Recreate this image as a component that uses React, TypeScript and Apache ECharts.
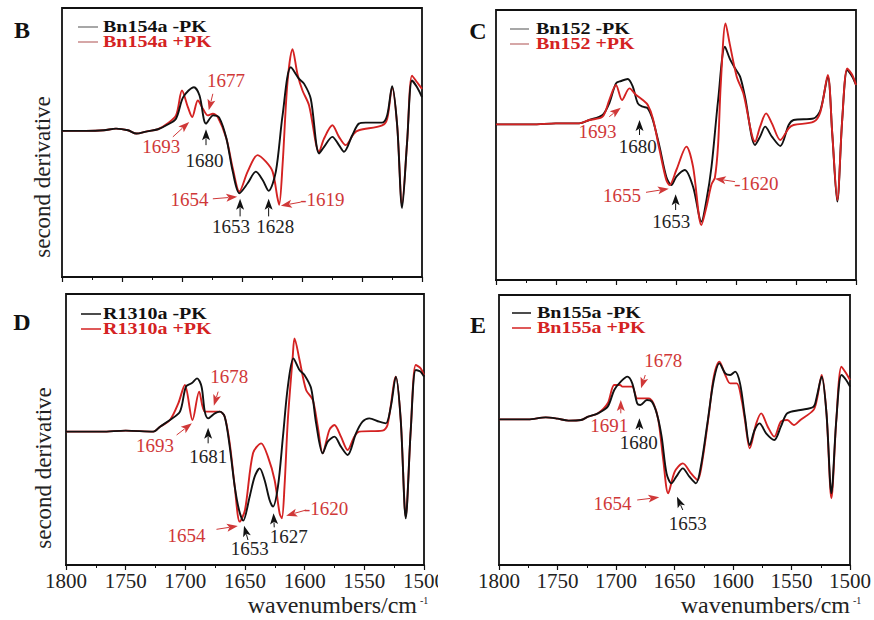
import React, { useEffect, useRef } from "react";
import * as echarts from "echarts";

const SERIF = "'Liberation Serif', 'DejaVu Serif', 'Times New Roman', serif";
const BLACK = "#111111";
const RED_LINE = "#d42222";
const RED_TEXT = "#d03838";

// ---------- data: [wavenumber (cm-1), second derivative (a.u.)] ----------
const bMinus: [number, number][] = [
  [1800, 0], [1780, 0], [1765, 2], [1755, 7], [1745, 2], [1738, -8], [1730, -2], [1720, 5],
  [1713, 17], [1705, 37], [1699, 102], [1690, 132], [1685.4, 107], [1680, 22], [1674, 47],
  [1669, 40], [1663, -23], [1657.7, -123], [1652.2, -188], [1645.3, -158], [1638.4, -123],
  [1632.8, -148], [1627.8, -181], [1621.8, -123], [1616.2, 47], [1609.3, 192], [1602.4, 157],
  [1598.2, 142], [1592.7, 97], [1585.8, -68], [1581.6, -48], [1574.7, -18], [1569.2, -43],
  [1565, -63], [1558.1, -13], [1552.6, 22], [1547, 25], [1533.2, 25], [1529, 47], [1524.9, 135],
  [1520.7, 17], [1516.6, -233], [1512.4, -33], [1508.3, 152], [1504.1, 132], [1500, 102],
];
const bPlus: [number, number][] = [
  [1800, 0], [1780, 0], [1765, 2], [1755, 7], [1745, 2], [1738, -8], [1730, -2], [1720, 5],
  [1713, 20], [1705, 47], [1700, 122], [1695.1, 72], [1691.5, 42], [1686.8, 92], [1682.6, 67],
  [1678.5, 47], [1674.3, 52], [1670.2, 42], [1663, -23], [1657.7, -113], [1652.2, -183],
  [1645.3, -123], [1637, -73], [1630.1, -93], [1624.5, -123], [1620.4, -203], [1619, -223],
  [1616.2, -103], [1612.1, 147], [1607.9, 247], [1603.8, 172], [1599.6, 122], [1594.1, 77],
  [1585.8, -63], [1581.6, -23], [1574.7, 17], [1569.2, -18], [1563.6, -43], [1556.7, -8],
  [1552.6, 2], [1533.2, 17], [1529, 37], [1524.9, 132], [1520.7, 17], [1516.6, -223],
  [1512.4, -33], [1508.3, 167], [1504.1, 147], [1500, 127],
];
const cMinus: [number, number][] = [
  [1800, 0], [1770, 0], [1750, 3], [1730.7, 3], [1722.3, 13], [1711.2, 28], [1705.6, 63],
  [1700, 123], [1695.8, 130], [1690.2, 136], [1686, 113], [1681.8, 63], [1677.7, 53],
  [1673.5, 48], [1669.3, 13], [1663.7, -67], [1658.1, -157], [1653.9, -182], [1649.7, -157],
  [1642.7, -137], [1635.8, -187], [1628.8, -292], [1624.6, -227], [1620.4, -127], [1614.9, 73],
  [1609.2, 233], [1605.3, 198], [1600.8, 168], [1596.6, 143], [1592.5, 83], [1584.1, -62],
  [1579.9, -37], [1575.7, -7], [1570.1, -37], [1563.1, -65], [1556.1, -2], [1552, 13],
  [1535.2, 18], [1529.6, 43], [1523.5, 143], [1519.8, -27], [1515.6, -232], [1511.5, 13],
  [1507.3, 163], [1503.1, 143], [1500, 118],
];
const cPlus: [number, number][] = [
  [1800, 0], [1770, 0], [1750, 3], [1730.7, 3], [1722.3, 13], [1711.2, 23], [1705.6, 73],
  [1700, 118], [1695, 73], [1688.8, 108], [1683.2, 88], [1677.7, 73], [1673.5, 58],
  [1669.3, 18], [1663.7, -77], [1658.1, -167], [1655.3, -182], [1649.7, -137], [1641.3, -67],
  [1635.8, -127], [1628.8, -302], [1624.6, -247], [1620.4, -180], [1617.6, -160],
  [1614.9, -60], [1612.7, 120], [1608.7, 303], [1605.3, 243], [1599.4, 143], [1593.9, 93],
  [1584.1, -52], [1579.9, -7], [1574.9, 33], [1570.1, 3], [1563.1, -47], [1556.1, -12],
  [1552, -2], [1535.2, 8], [1529.6, 38], [1523.5, 148], [1519.8, -27], [1515.6, -227],
  [1511.5, 13], [1507.3, 168], [1503.1, 148], [1500, 118],
];
const dMinus: [number, number][] = [
  [1800, 0], [1770, 0], [1750, 3], [1726.8, 0], [1721.2, 15], [1712.9, 35], [1704.5, 60],
  [1699.5, 135], [1694.8, 145], [1690.1, 160], [1686.4, 135], [1683.7, 60], [1680.9, 40],
  [1675.3, 55], [1671.1, 60], [1667, 45], [1662.8, -45], [1658.6, -165], [1655, -235],
  [1651.5, -267], [1646.1, -195], [1641.9, -135], [1637.7, -110], [1633.6, -145],
  [1629.4, -205], [1626.6, -225], [1622.4, -165], [1618.2, -15], [1614.1, 135], [1609.4, 220],
  [1604.3, 185], [1600.2, 170], [1594.6, 130], [1590.4, 25], [1584.9, -65], [1580.7, -30],
  [1575.1, -15], [1569.6, -45], [1564, -70], [1557, -5], [1551.5, 30], [1545.9, 40],
  [1537.5, 30], [1532, 25], [1527.8, 75], [1523.6, 165], [1519.5, 35], [1515.3, -260],
  [1511.1, 5], [1506.9, 185], [1502.8, 180], [1500, 165],
];
const dPlus: [number, number][] = [
  [1800, 0], [1770, 0], [1750, 3], [1726.8, 0], [1721.2, 15], [1712.9, 35], [1705.9, 85],
  [1700.4, 140], [1694, 35], [1688.4, 120], [1683.7, 60], [1676.7, 60], [1671.1, 60],
  [1667, 45], [1662.8, -35], [1658.6, -165], [1654.4, -270], [1650, -235], [1643.3, -65],
  [1636.4, -35], [1630.8, -75], [1625.2, -145], [1621, -245], [1619.1, -260], [1616.9, -165],
  [1614.1, 35], [1610, 225], [1608.5, 280], [1604.3, 215], [1598.8, 125], [1593.2, 95],
  [1589, 15], [1584.9, -65], [1579.3, 5], [1575.1, 20], [1569.6, -15], [1564, -55],
  [1558.4, -15], [1554.2, 0], [1534.8, 3], [1530.6, 20], [1523.6, 165], [1519.5, 35],
  [1515.3, -255], [1511.1, 5], [1506.9, 200], [1502.8, 190], [1500, 170],
];
const eMinus: [number, number][] = [
  [1800, 0], [1775, 0], [1760.1, 6], [1750, 2], [1740.6, -4], [1730, -2], [1723.8, 8],
  [1715.4, 18], [1707.1, 38], [1701.5, 88], [1695.9, 113], [1690.3, 128], [1686.1, 108],
  [1681.9, 48], [1679.2, 43], [1673.6, 58], [1669.4, 53], [1665.2, 18], [1661, -52],
  [1656.8, -162], [1652.6, -192], [1648.5, -172], [1642.9, -147], [1637.3, -172],
  [1631.7, -192], [1627.5, -142], [1621.9, -12], [1616.4, 118], [1611.6, 168], [1606.6, 138],
  [1602.4, 133], [1598.2, 143], [1594, 108], [1589.8, 8], [1585.7, -77], [1581.5, -32],
  [1577.3, -12], [1571.7, -42], [1564.7, -62], [1559.1, -22], [1553.6, 18], [1542.4, 28],
  [1531.2, 38], [1528.4, 68], [1524.2, 128], [1520.1, 18], [1515.9, -222], [1511.7, -2],
  [1507.3, 133], [1503.3, 118], [1500, 98],
];
const ePlus: [number, number][] = [
  [1800, 0], [1775, 0], [1760.1, 6], [1750, 2], [1740.6, -4], [1730, -2], [1723.8, 8],
  [1715.4, 18], [1707.1, 48], [1701.5, 103], [1696.5, 103], [1694.5, 98], [1690.3, 98],
  [1686.1, 98], [1681.9, 63], [1677.8, 63], [1672.2, 63], [1668, 48], [1663.8, -2],
  [1659.6, -122], [1655.4, -222], [1649.8, -157], [1642.9, -132], [1635.9, -162],
  [1630.3, -182], [1626.1, -122], [1620.5, 18], [1616.4, 128], [1611.6, 173], [1606.6, 133],
  [1602.4, 108], [1596.8, 108], [1592.6, 58], [1589.8, -2], [1585.7, -87], [1580.1, -12],
  [1575.9, 18], [1570.3, -22], [1564.7, -52], [1559.1, -7], [1553.6, -2], [1548, -17],
  [1542.4, -2], [1531.2, 28], [1528.4, 58], [1524.2, 133], [1520.1, 18], [1515.9, -237],
  [1511.7, -2], [1507.3, 158], [1503.3, 138], [1500, 118],
];

const panelLetters = ["B", "C", "D", "E"];
const legendMinus = ["Bn154a -PK", "Bn152 -PK", "R1310a -PK", "Bn155a -PK"];
const legendPlus = ["Bn154a +PK", "Bn152 +PK", "R1310a +PK", "Bn155a +PK"];
const yRange: [number, number][] = [[-441, 371], [-467, 343], [-400, 413], [-437, 373]];
const yAxisTitle = "second derivative";
const xAxisTitle = "wavenumbers/cm";
const xAxisTitleSup = "-1";

type Ann = { t: string; c: "k" | "r"; label: [number, number]; from: [number, number]; to: [number, number] };
const annB: Ann[] = [
  { t: "1693", c: "r", label: [1717.2, -48], from: [1707.6, -18], to: [1694, 27] },
  { t: "1677", c: "r", label: [1663.3, 152], from: [1674.3, 112], to: [1677.7, 62] },
  { t: "1680", c: "k", label: [1681.3, -88], from: [1680, -43], to: [1680, 5] },
  { t: "1654", c: "r", label: [1693.7, -208], from: [1674.3, -205], to: [1654, -199] },
  { t: "1653", c: "k", label: [1659.1, -288], from: [1651.6, -258], to: [1651.6, -205] },
  { t: "1628", c: "k", label: [1622.3, -288], from: [1627.8, -258], to: [1627.8, -205] },
  { t: "-1619", c: "r", label: [1583, -208], from: [1601, -215], to: [1617.6, -226] },
];
const annC: Ann[] = [
  { t: "1693", c: "r", label: [1715.4, -22], from: [1705.6, 23], to: [1696, 50] },
  { t: "1680", c: "k", label: [1681.8, -67], from: [1680.4, -32], to: [1680.4, 13] },
  { t: "1655", c: "r", label: [1695, -212], from: [1675, -204], to: [1656, -193] },
  { t: "1653", c: "k", label: [1653.9, -292], from: [1650.3, -257], to: [1650.3, -210] },
  { t: "-1620", c: "r", label: [1583, -177], from: [1600.8, -172], to: [1617.6, -163] },
];
const annD: Ann[] = [
  { t: "1678", c: "r", label: [1663.3, 167], from: [1672.5, 120], to: [1676.1, 78] },
  { t: "1693", c: "r", label: [1725.4, -40], from: [1707.3, -10], to: [1694.5, 25] },
  { t: "1681", c: "k", label: [1680.9, -75], from: [1680.9, -35], to: [1680.9, 12] },
  { t: "1654", c: "r", label: [1699, -310], from: [1673.9, -293], to: [1656, -283] },
  { t: "1653", c: "k", label: [1646.1, -350], from: [1647.5, -325], to: [1650.8, -282] },
  { t: "1627", c: "k", label: [1613.3, -315], from: [1625.5, -287], to: [1626.1, -245] },
  { t: "-1620", c: "r", label: [1582, -230], from: [1598.8, -235], to: [1615.5, -252] },
];
const annE: Ann[] = [
  { t: "1678", c: "r", label: [1659.6, 178], from: [1675, 133], to: [1678.6, 93] },
  { t: "1691", c: "r", label: [1705.7, -17], from: [1695.9, 18], to: [1695.9, 58] },
  { t: "1680", c: "k", label: [1680.5, -69], from: [1680, -32], to: [1680, 3] },
  { t: "1654", c: "r", label: [1702.9, -252], from: [1681.9, -242], to: [1663, -234] },
  { t: "1653", c: "k", label: [1638.7, -312], from: [1642.9, -272], to: [1647.9, -232] },
];

const minusSeries = [bMinus, cMinus, dMinus, eMinus];
const plusSeries = [bPlus, cPlus, dPlus, ePlus];
const annotations = [annB, annC, annD, annE];

// ---------- layout ----------
const grids = [
  { left: 62, top: 8, width: 360, height: 269 },
  { left: 496, top: 10, width: 360, height: 270 },
  { left: 66, top: 294, width: 358, height: 271 },
  { left: 499, top: 295, width: 358, height: 270 },
];
const legendLayout = [
  { x1: 78, x2: 98, tx: 103, y1: 27, y2: 42, sample: ["#8a8a8a", "#c98a8a"] },
  { x1: 510, x2: 529, tx: 536, y1: 29, y2: 44, sample: ["#8a8a8a", "#c98a8a"] },
  { x1: 81, x2: 101, tx: 103, y1: 314, y2: 329, sample: [BLACK, RED_LINE] },
  { x1: 512, x2: 531, tx: 537, y1: 313, y2: 328, sample: [BLACK, RED_LINE] },
];
const letterPos = [[22, 30], [478, 31], [22, 322], [478, 325]];

export default function App() {
  const ref = useRef<HTMLDivElement>(null);
  useEffect(() => {
    document.body.style.margin = "0";
    const chart = echarts.init(ref.current!, null, { renderer: "svg" });
    const series: any[] = [];
    grids.forEach((_, i) => {
      const blackOnTop = i !== 1;
      const mk = (data: [number, number][], color: string, z: number) => ({
        type: "line",
        xAxisIndex: i,
        yAxisIndex: i,
        data,
        showSymbol: false,
        smooth: 0.3,
        lineStyle: { color, width: 1.9 },
        z,
        silent: true,
      });
      series.push(mk(plusSeries[i], RED_LINE, blackOnTop ? 2 : 3));
      series.push(mk(minusSeries[i], BLACK, blackOnTop ? 3 : 2));
    });
    chart.setOption({
      animation: false,
      backgroundColor: "#ffffff",
      grid: grids.map((g) => ({
        ...g,
        show: true,
        borderColor: BLACK,
        borderWidth: 1.8,
        backgroundColor: "transparent",
      })),
      xAxis: grids.map((_, i) => ({
        type: "value",
        gridIndex: i,
        min: 1500,
        max: 1800,
        interval: 50,
        inverse: true,
        axisLine: { show: true, onZero: false, lineStyle: { color: BLACK, width: 1.8 } },
        axisTick: { show: true, length: 5, lineStyle: { color: BLACK, width: 1.2 } },
        minorTick: { show: true, splitNumber: 2, length: 3, lineStyle: { color: BLACK, width: 1 } },
        splitLine: { show: false },
        axisLabel: {
          show: i >= 2,
          fontFamily: SERIF,
          fontSize: 21,
          color: "#222",
          margin: 5,
          formatter: (v: number) => String(v),
        },
      })),
      yAxis: grids.map((_, i) => ({
        type: "value",
        gridIndex: i,
        min: yRange[i][0],
        max: yRange[i][1],
        show: false,
        splitLine: { show: false },
      })),
      series,
    });

    const g: any[] = [];
    const txt = (text: string, x: number, y: number, font: string, fill: string, align = "center", extra: any = {}) => ({
      type: "text",
      x,
      y,
      z: 100,
      ...extra,
      style: { text, font, fill, textAlign: align, textVerticalAlign: "middle", verticalAlign: "middle" },
    });

    annotations.forEach((list, i) => {
      list.forEach((a) => {
        const col = a.c === "r" ? RED_TEXT : BLACK;
        const L = chart.convertToPixel({ gridIndex: i }, a.label) as number[];
        const F = chart.convertToPixel({ gridIndex: i }, a.from) as number[];
        const T = chart.convertToPixel({ gridIndex: i }, a.to) as number[];
        g.push(txt(a.t, L[0], L[1], `19px ${SERIF}`, a.c === "r" ? RED_TEXT : "#222", "center"));
        const dx = T[0] - F[0];
        const dy = T[1] - F[1];
        const len = Math.sqrt(dx * dx + dy * dy) || 1;
        const ux = dx / len;
        const uy = dy / len;
        const hl = 11;
        const hw = 4;
        const bx = T[0] - ux * hl;
        const by = T[1] - uy * hl;
        g.push({
          type: "line",
          z: 100,
          shape: { x1: F[0], y1: F[1], x2: bx + ux * 2, y2: by + uy * 2 },
          style: { stroke: col, lineWidth: 1 },
        });
        g.push({
          type: "polygon",
          z: 100,
          shape: {
            points: [
              [T[0], T[1]],
              [bx - uy * hw, by + ux * hw],
              [bx + ux * 2.5, by + uy * 2.5],
              [bx + uy * hw, by - ux * hw],
            ],
          },
          style: { fill: col },
        });
      });
    });

    legendLayout.forEach((l, i) => {
      g.push({ type: "line", z: 100, shape: { x1: l.x1, y1: l.y1, x2: l.x2, y2: l.y1 }, style: { stroke: l.sample[0], lineWidth: 1.5 } });
      g.push({ type: "line", z: 100, shape: { x1: l.x1, y1: l.y2, x2: l.x2, y2: l.y2 }, style: { stroke: l.sample[1], lineWidth: 1.5 } });
      g.push(txt(legendMinus[i], l.tx, l.y1, `bold 16px ${SERIF}`, BLACK, "left", { scaleX: 1.25, scaleY: 1 }));
      g.push(txt(legendPlus[i], l.tx, l.y2, `bold 16px ${SERIF}`, RED_LINE, "left", { scaleX: 1.25, scaleY: 1 }));
      g.push(txt(panelLetters[i], letterPos[i][0], letterPos[i][1], `bold 24px ${SERIF}`, BLACK, "center"));
    });

    g.push(txt(yAxisTitle, 42, 177, `23px ${SERIF}`, "#222", "center", { rotation: Math.PI / 2 }));
    g.push(txt(yAxisTitle, 43, 468, `23px ${SERIF}`, "#222", "center", { rotation: Math.PI / 2 }));

    g.push(txt(xAxisTitle, 417, 605, `24px ${SERIF}`, "#222", "right"));
    g.push(txt(xAxisTitleSup, 420, 600, `10px ${SERIF}`, "#222", "left"));
    g.push(txt(xAxisTitle, 850, 605, `24px ${SERIF}`, "#222", "right"));
    g.push(txt(xAxisTitleSup, 853, 600, `10px ${SERIF}`, "#222", "left"));

    g.push({ type: "rect", z: 90, shape: { x: 438, y: 572, width: 12, height: 21 }, style: { fill: "#ffffff" } });

    chart.setOption({ graphic: g });
    return () => chart.dispose();
  }, []);
  return <div ref={ref} style={{ position: "absolute", left: 0, top: 0, width: 874, height: 620 }} />;
}
